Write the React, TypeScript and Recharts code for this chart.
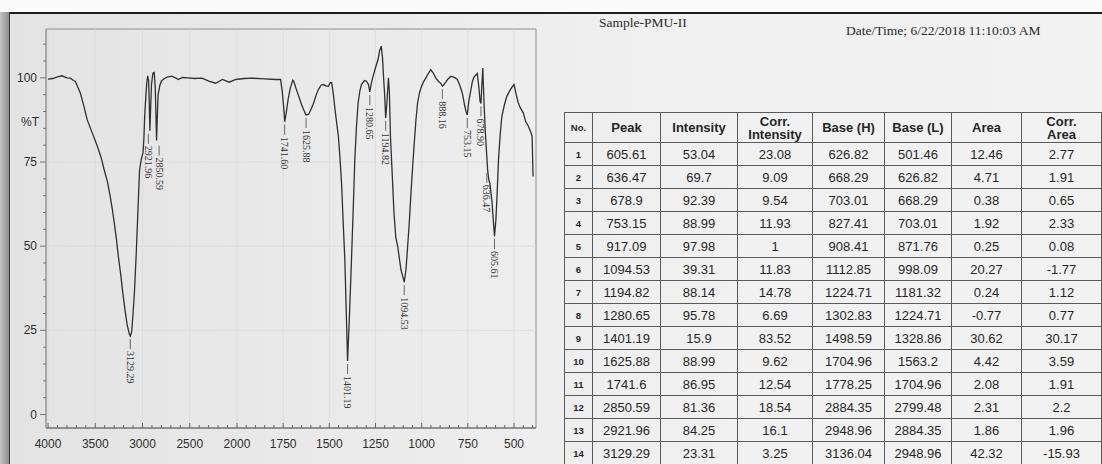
import React from 'react';
import { ComposedChart, Line, XAxis, YAxis, ReferenceLine, ReferenceArea, ReferenceDot } from 'recharts';

// traced spectrum, wavenumber (cm-1) and %T
const spectrumWn = [
  4000, 3950, 3900, 3854, 3800, 3764, 3730, 3710, 3690, 3657, 3620, 3585, 3530, 3477, 3440, 3406, 3370, 3342,
  3320, 3299, 3276, 3256, 3230, 3209, 3185, 3163, 3140, 3129, 3115, 3100, 3086, 3066, 3048, 3031, 3012, 2995,
  2985, 2977, 2965, 2955, 2945, 2935, 2928, 2922, 2915, 2905, 2890, 2876, 2865, 2857, 2851, 2845, 2835, 2816,
  2800, 2780, 2740, 2691, 2650, 2619, 2580, 2520, 2450, 2370, 2298, 2226, 2154, 2083, 2012, 1960, 1916, 1850,
  1791, 1764, 1755, 1746, 1741.6, 1735, 1722, 1711, 1698, 1693, 1680, 1666, 1650, 1639, 1626, 1612, 1600, 1585,
  1572, 1559, 1545, 1532, 1518, 1505, 1495, 1487, 1478, 1469, 1460, 1451, 1442, 1433, 1425, 1416, 1408, 1401.2,
  1392, 1380, 1370, 1362, 1353, 1344, 1335, 1326, 1310, 1299, 1288, 1281, 1272, 1263, 1250, 1236, 1228, 1219,
  1212, 1205, 1201, 1195, 1189, 1180, 1175, 1169, 1160, 1150, 1140, 1130, 1120, 1112, 1100, 1094.5, 1085, 1076,
  1067, 1058, 1049, 1040, 1031, 1022, 1012, 1004, 990, 978, 965, 951, 938, 924, 910, 897, 888, 879, 860, 843,
  825, 807, 795, 780, 768, 760, 753, 745, 735, 725, 717, 699, 690, 684, 679, 674, 669, 662, 655, 649, 643,
  636.5, 630, 619, 610, 605.6, 598, 592, 584, 575, 566, 552, 539, 520, 507, 500, 488, 477, 465, 450, 437, 423,
  410, 402, 397,
];
const spectrumT = [
  99.6, 99.8, 100.3, 100.6, 100.0, 99.9, 99.2, 98.9, 97.6, 95.4, 91.5, 87.5, 83.5, 79.6, 76.5, 72.7, 69.0, 64.8,
  61.0, 57.0, 52.0, 47.0, 41.5, 36.2, 31.0, 26.7, 24.0, 23.3, 24.5, 30.0, 36.0, 48.0, 60.8, 72.7, 76.0, 77.7,
  82.0, 88.5, 94.5, 98.5, 100.6, 99.0, 92.0, 84.3, 90.0, 98.0, 101.4, 101.6, 97.0, 88.0, 81.4, 87.0, 95.0, 97.8,
  99.0, 99.6, 100.2, 100.5, 100.0, 99.5, 100.1, 100.0, 99.8, 99.9, 99.0, 98.4, 99.5, 98.7, 99.5, 99.8, 99.9, 99.7,
  99.5, 99.5, 96.0, 90.5, 86.95, 89.0, 94.0, 97.0, 99.3, 99.0, 96.8, 94.6, 92.0, 90.5, 89.0, 89.2, 90.5, 92.5,
  94.8, 96.5, 97.8, 98.0, 97.6, 97.5, 98.6, 98.5, 95.0, 90.5, 86.5, 82.6, 76.0, 67.8, 57.0, 46.0, 30.0, 15.9,
  28.0, 46.0, 62.0, 75.7, 85.5, 92.6, 96.0, 98.0, 99.2, 99.0, 98.0, 95.8, 98.5, 100.5, 103.0, 105.5, 108.0, 109.4,
  106.0, 99.0, 95.5, 88.1, 92.0, 100.0, 96.0, 82.6, 72.0, 60.0, 52.5, 50.0, 46.0, 43.0, 40.5, 39.3, 43.0, 50.0,
  57.0, 65.8, 73.5, 80.7, 87.5, 92.6, 95.5, 97.0, 98.8, 99.9, 101.2, 102.4, 101.5, 100.0, 99.0, 98.4, 97.5, 98.0, 99.5, 100.4,
  100.2, 99.5, 98.0, 95.5, 92.0, 90.0, 89.0, 93.0, 96.0, 99.0, 100.2, 101.3, 97.0, 93.0, 92.4, 98.0, 102.9, 92.0, 83.6, 78.0, 72.7,
  69.7, 68.5, 63.0, 56.0, 53.0, 58.0, 65.0, 75.7, 83.0, 88.5, 92.0, 94.5, 96.5, 97.5, 98.0, 95.0, 92.6, 91.0, 89.6, 87.0, 85.7,
  84.0, 82.6, 70.7,
];

// peak labels printed on the spectrum
const peakWn = [3129.29, 2921.96, 2850.59, 1741.6, 1625.88, 1401.19, 1280.65, 1194.82, 1094.53, 888.16, 753.15, 678.9, 636.47, 605.61];
const peakT = [23.31, 84.25, 81.36, 86.95, 88.99, 15.9, 95.78, 88.14, 39.31, 97.5, 88.99, 92.39, 69.7, 53.04];
const peakText = ['3129.29', '2921.96', '2850.59', '1741.60', '1625.88', '1401.19', '1280.65', '1194.82', '1094.53', '888.16', '753.15', '678.90', '636.47', '605.61'];

const xTickLabels = [4000, 3500, 3000, 2500, 2000, 1750, 1500, 1250, 1000, 750, 500];
const yTickLabels = [0, 25, 50, 75, 100];

// peak table
const tableNo = [1, 2, 3, 4, 5, 6, 7, 8, 9, 10, 11, 12, 13, 14];
const tablePeak = [605.61, 636.47, 678.9, 753.15, 917.09, 1094.53, 1194.82, 1280.65, 1401.19, 1625.88, 1741.6, 2850.59, 2921.96, 3129.29];
const tableIntensity = [53.04, 69.7, 92.39, 88.99, 97.98, 39.31, 88.14, 95.78, 15.9, 88.99, 86.95, 81.36, 84.25, 23.31];
const tableCorrIntensity = [23.08, 9.09, 9.54, 11.93, 1, 11.83, 14.78, 6.69, 83.52, 9.62, 12.54, 18.54, 16.1, 3.25];
const tableBaseH = [626.82, 668.29, 703.01, 827.41, 908.41, 1112.85, 1224.71, 1302.83, 1498.59, 1704.96, 1778.25, 2884.35, 2948.96, 3136.04];
const tableBaseL = [501.46, 626.82, 668.29, 703.01, 871.76, 998.09, 1181.32, 1224.71, 1328.86, 1563.2, 1704.96, 2799.48, 2884.35, 2948.96];
const tableArea = [12.46, 4.71, 0.38, 1.92, 0.25, 20.27, 0.24, -0.77, 30.62, 4.42, 2.08, 2.31, 1.86, 42.32];
const tableCorrArea = [2.77, 1.91, 0.65, 2.33, 0.08, -1.77, 1.12, 0.77, 30.17, 3.59, 1.91, 2.2, 1.96, -15.93];

// the wavenumber axis is compressed (about 2:1) above 2000 cm-1
const HIGH = 1.023 / 2;
const toU = (wn: number) => (wn >= 2000 ? (4000 - wn) * HIGH : 1000 * 2 * HIGH + (2000 - wn));

const spectrum = spectrumWn.map((wn, i) => ({ u: toU(wn), v: spectrumT[i] }));
const majorU = xTickLabels.map(toU);
const tickWn: number[] = [];
for (let wn = 4000; wn > 2000; wn -= 100) tickWn.push(wn);
for (let wn = 2000; wn >= 400; wn -= 50) tickWn.push(wn);
const xTicks = tickWn.map(toU);
const yTicks: number[] = [];
for (let v = 0; v <= 110; v += 5) yTicks.push(v);

// label nudges (px) where the printout moved a label off its peak
const labelShift: Record<string, [number, number]> = {
  '2921.96': [-1.5, 0],
  '2850.59': [2.5, 2],
  '636.47': [-2, -10],
};

const axisFont = '"Liberation Sans", Arial, sans-serif';
const serif = '"Liberation Serif", "Times New Roman", serif';

const XTick = (props: any) => {
  const { x, y, payload } = props;
  const idx = majorU.findIndex((u) => Math.abs(u - payload.value) < 1e-6);
  const major = idx >= 0;
  return (
    <g>
      <line x1={x} x2={x} y1={y} y2={y - (major ? 5 : 3)} stroke="#666" strokeWidth={1} />
      {major && (
        <text x={x} y={y + 20} textAnchor="middle" fontSize={12} fontFamily={axisFont} fill="#2e2e2e">
          {xTickLabels[idx]}
        </text>
      )}
    </g>
  );
};

const YTick = (props: any) => {
  const { x, y, payload } = props;
  const major = yTickLabels.includes(payload.value);
  return (
    <g>
      <line x1={x - (major ? 6 : 3)} x2={x} y1={y} y2={y} stroke="#777" strokeWidth={1} />
      {major && (
        <text x={x - 9} y={y + 4} textAnchor="end" fontSize={12} fontFamily={axisFont} fill="#2e2e2e">
          {payload.value}
        </text>
      )}
    </g>
  );
};

const PeakLabel = (props: any) => {
  const { cx, cy, text } = props;
  const [dx, dy] = labelShift[text] || [0, 0];
  const tx = cx + dx;
  const y0 = cy + 15 + dy;
  return (
    <g>
      <line x1={tx} x2={tx} y1={y0 - 12} y2={y0 - 2} stroke="#444" strokeWidth={0.8} />
      <text
        x={tx}
        y={y0}
        transform={`rotate(90 ${tx} ${y0})`}
        dominantBaseline="central"
        fontSize={10}
        fontFamily={serif}
        fill="#333"
      >
        {text}
      </text>
    </g>
  );
};

const colWidths = [28, 68, 77, 75, 72, 67, 70, 80];

const cell: React.CSSProperties = {
  border: '1px solid #5a5a5a',
  textAlign: 'center',
  padding: 0,
  overflow: 'hidden',
  whiteSpace: 'nowrap',
};

const App: React.FC = () => {
  return (
    <div
      style={{
        position: 'absolute',
        left: 0,
        top: 0,
        width: 1102,
        height: 464,
        overflow: 'hidden',
        background: 'linear-gradient(90deg, #e3e3e3 0%, #ebebeb 35%, #f0f0f0 60%, #f2f2f2 100%)',
      }}
    >
      <div style={{ position: 'absolute', left: 0, top: 0, width: 1102, height: 12, background: '#fafafa' }} />
      <div style={{ position: 'absolute', left: 9, top: 12, width: 1093, height: 1.5, background: '#1c1c1c' }} />
      <div
        style={{
          position: 'absolute',
          left: 0,
          top: 12,
          width: 9,
          height: 452,
          background: 'linear-gradient(90deg, #c4c4c4, #8e8e8e)',
        }}
      />
      <div style={{ position: 'absolute', left: 9, top: 12, width: 1, height: 452, background: '#3a3a3a' }} />

      <div style={{ position: 'absolute', left: 0, top: 0 }}>
        <ComposedChart width={550} height={464} data={spectrum} margin={{ top: 29, right: 14, bottom: 0, left: 0 }}>
          {majorU.map((u) => (
            <ReferenceLine key={'gx' + u} x={u} stroke="#d9d9d9" strokeWidth={0.8} />
          ))}
          {[25, 50, 75].map((v) => (
            <ReferenceLine key={'gy' + v} y={v} stroke="#dcdcdc" strokeWidth={0.8} />
          ))}
          <ReferenceArea x1={-11} x2={2642} y1={-4} y2={114.5} fill="none" stroke="#8c8c8c" strokeWidth={1} />
          <XAxis
            type="number"
            dataKey="u"
            domain={[-11, 2642]}
            ticks={xTicks}
            interval={0}
            allowDataOverflow
            tick={XTick}
            tickLine={false}
            tickSize={0}
            tickMargin={0}
            height={36}
            axisLine={{ stroke: '#666' }}
          />
          <YAxis
            type="number"
            domain={[-4, 114.5]}
            ticks={yTicks}
            interval={0}
            allowDataOverflow
            tick={YTick}
            tickLine={false}
            tickSize={0}
            tickMargin={0}
            width={46}
            axisLine={{ stroke: '#999' }}
          />
          <Line
            dataKey="v"
            type="linear"
            dot={false}
            activeDot={false}
            stroke="#303030"
            strokeWidth={1.3}
            isAnimationActive={false}
          />
          {peakWn.map((wn, i) => (
            <ReferenceDot
              key={'pk' + i}
              x={toU(wn)}
              y={peakT[i]}
              r={0}
              shape={(p: any) => <PeakLabel {...p} text={peakText[i]} />}
            />
          ))}
        </ComposedChart>
      </div>

      <div
        style={{
          position: 'absolute',
          left: 21,
          top: 115,
          fontFamily: axisFont,
          fontSize: 12,
          color: '#2e2e2e',
        }}
      >
        %T
      </div>

      <div style={{ position: 'absolute', left: 599, top: 15, fontFamily: serif, fontSize: 13.5, color: '#2a2a2a' }}>
        Sample-PMU-II
      </div>
      <div style={{ position: 'absolute', left: 846, top: 23, fontFamily: serif, fontSize: 13.5, color: '#2a2a2a' }}>
        Date/Time; 6/22/2018 11:10:03 AM
      </div>

      <table
        style={{
          position: 'absolute',
          left: 564,
          top: 112,
          width: 537,
          borderCollapse: 'collapse',
          tableLayout: 'fixed',
          fontFamily: axisFont,
          fontSize: 13,
          color: '#262626',
        }}
      >
        <colgroup>
          {colWidths.map((w, i) => (
            <col key={i} style={{ width: w }} />
          ))}
        </colgroup>
        <thead>
          <tr style={{ height: 30 }}>
            <th style={{ ...cell, fontSize: 9.5 }}>No.</th>
            <th style={cell}>Peak</th>
            <th style={cell}>Intensity</th>
            <th style={{ ...cell, whiteSpace: 'normal', lineHeight: '13px' }}>
              Corr.
              <br />
              Intensity
            </th>
            <th style={cell}>Base (H)</th>
            <th style={cell}>Base (L)</th>
            <th style={cell}>Area</th>
            <th style={{ ...cell, whiteSpace: 'normal', lineHeight: '13px' }}>
              Corr.
              <br />
              Area
            </th>
          </tr>
        </thead>
        <tbody>
          {tableNo.map((n, i) => (
            <tr key={n} style={{ height: 23 }}>
              <td style={{ ...cell, fontSize: 9.5, fontWeight: 700 }}>{n}</td>
              <td style={cell}>{tablePeak[i]}</td>
              <td style={cell}>{tableIntensity[i]}</td>
              <td style={cell}>{tableCorrIntensity[i]}</td>
              <td style={cell}>{tableBaseH[i]}</td>
              <td style={cell}>{tableBaseL[i]}</td>
              <td style={cell}>{tableArea[i]}</td>
              <td style={cell}>{tableCorrArea[i]}</td>
            </tr>
          ))}
        </tbody>
      </table>
    </div>
  );
};

export default App;
